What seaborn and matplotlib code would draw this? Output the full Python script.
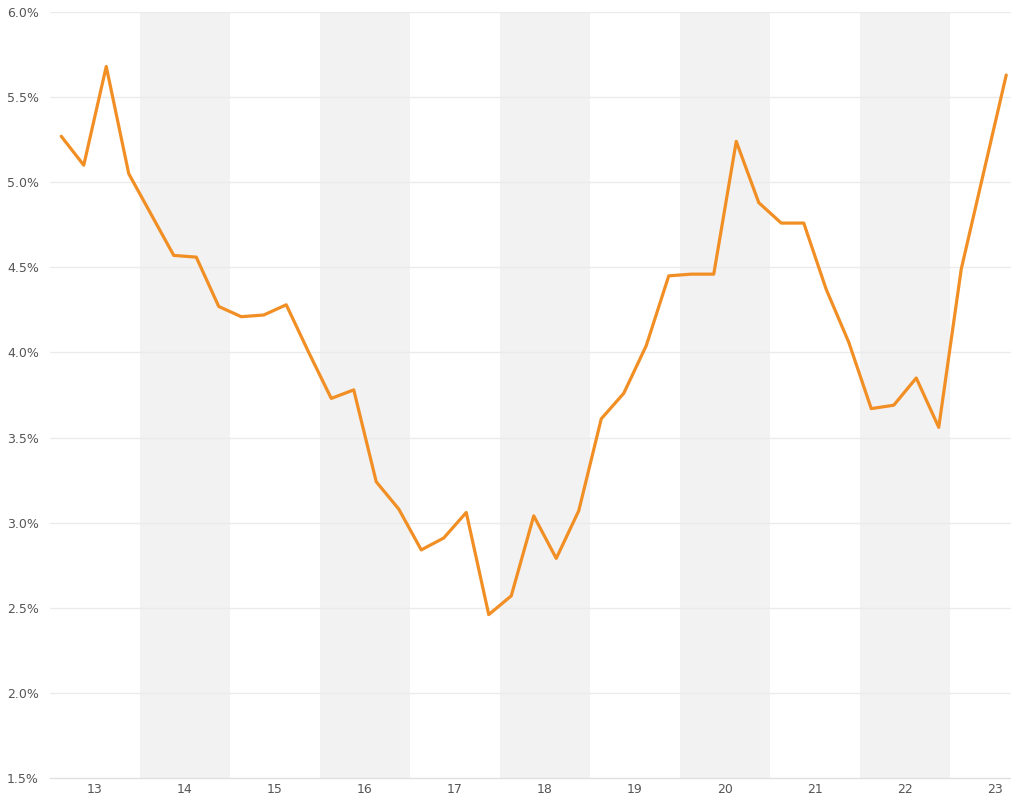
import pandas as pd
import seaborn as sns
import matplotlib.pyplot as plt
from matplotlib.ticker import FixedLocator, FuncFormatter, NullFormatter

# Data: quarterly values, 2013 Q1 .. 2023 Q3
quarters = pd.period_range("2013Q1", "2023Q3", freq="Q")
values = [
    5.27, 5.10, 5.68, 5.05,
    4.81, 4.57, 4.56, 4.27,
    4.21, 4.22, 4.28, 4.00,
    3.73, 3.78, 3.24, 3.08,
    2.84, 2.91, 3.06, 2.46,
    2.57, 3.04, 2.79, 3.07,
    3.61, 3.76, 4.04, 4.45,
    4.46, 4.46, 5.24, 4.88,
    4.76, 4.76, 4.37, 4.06,
    3.67, 3.69, 3.85, 3.56,
    4.49, 5.06, 5.63,
]
years = list(range(2013, 2024))
shaded_years = [2014, 2016, 2018, 2020, 2022]
y_ticks = [1.5, 2.0, 2.5, 3.0, 3.5, 4.0, 4.5, 5.0, 5.5, 6.0]

# Constants
LINE_COLOR = "#f18f25"
BAND_COLOR = "#f2f2f2"
TEXT_COLOR = "#555555"

df = pd.DataFrame({
    "pos": [q.year + (q.quarter - 0.5) / 4 for q in quarters],
    "value": values,
})

sns.set_style("white")
fig = plt.figure(figsize=(10.12, 7.95), dpi=100)
ax = fig.add_axes([50 / 1012, 1 - 778 / 795, 962 / 1012, 766 / 795])

for yr in shaded_years:
    ax.axvspan(yr, yr + 1, color=BAND_COLOR, lw=0, zorder=0)

for t in y_ticks[1:]:
    ax.axhline(t, color="#ebebeb", lw=1, zorder=1)

sns.lineplot(data=df, x="pos", y="value", color=LINE_COLOR, lw=2.3, ax=ax, zorder=3)

ax.set_xlim(2013, 2013 + 962 / 90)
ax.set_ylim(1.5, 6.0)
ax.set_xlabel("")
ax.set_ylabel("")

for s in ["top", "right", "left"]:
    ax.spines[s].set_visible(False)
ax.spines["bottom"].set_color("#e0e0e0")
ax.spines["bottom"].set_linewidth(1)

# y axis
ax.set_yticks(y_ticks)
ax.yaxis.set_major_formatter(FuncFormatter(lambda v, _: f"{v:.1f}%"))
ax.tick_params(axis="y", length=0, pad=8, labelsize=9, labelcolor=TEXT_COLOR)

# x axis: major ticks at year boundaries, minor at quarters, labels centred
ax.xaxis.set_major_locator(FixedLocator(years))
ax.xaxis.set_major_formatter(NullFormatter())
minor = [y + q / 4 for y in years for q in (1, 2, 3)]
ax.xaxis.set_minor_locator(FixedLocator(minor))
ax.tick_params(axis="x", which="major", direction="inout", length=11, width=1.3,
               color="#777777")
ax.tick_params(axis="x", which="minor", direction="in", length=5, width=0.9,
               color="#bbbbbb")
for yr in years:
    ax.text(yr + 0.5, -15 / 766, str(yr)[2:], transform=ax.get_xaxis_transform(),
            ha="center", va="baseline", fontsize=9, color=TEXT_COLOR)

fig.savefig("out.png", dpi=100)
